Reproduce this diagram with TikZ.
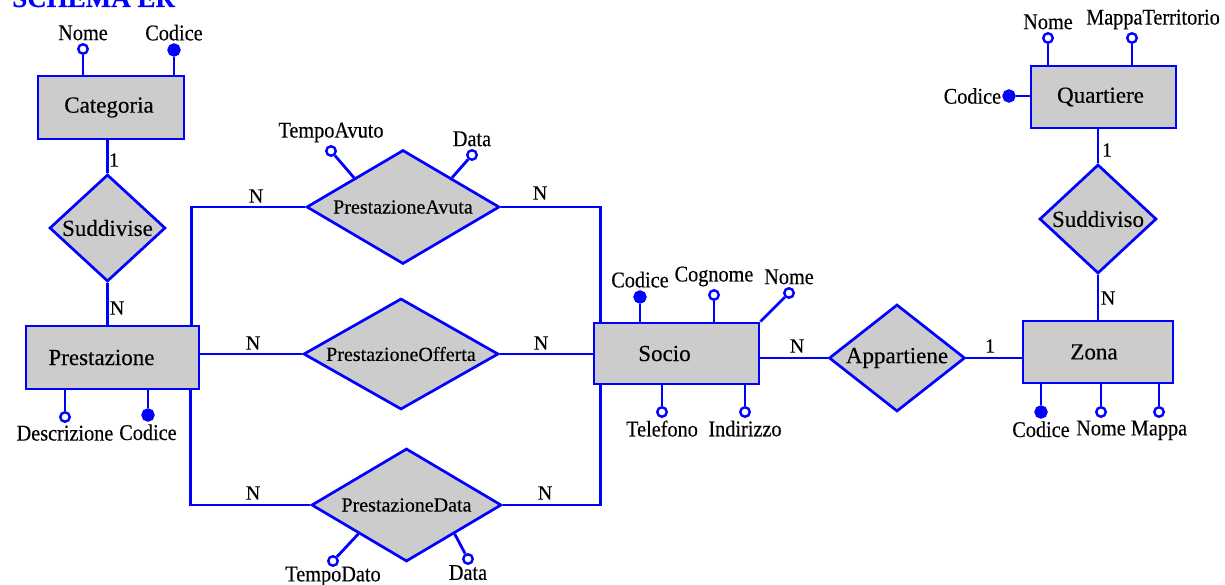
\documentclass[tikz,border=0pt]{standalone}
\usepackage{fontspec}
\setmainfont{Liberation Serif}[FakeBold=0.3]
\newfontfamily\lblfont{Liberation Serif}[FakeStretch=0.9,FakeBold=0.3]
\usepackage{tikz}
\usetikzlibrary{shapes.geometric}
\definecolor{erblue}{HTML}{0000FF}
\definecolor{ergray}{HTML}{CCCCCC}
\tikzset{
  link/.style={draw=erblue,line width=2.8pt},
  entity/.style={rectangle,draw=erblue,line width=2.9pt,fill=ergray,inner sep=0pt,
    font=\fontsize{23}{26}\selectfont},
  rel/.style={diamond,draw=erblue,line width=2.7pt,fill=ergray,inner sep=0pt,
    font=\fontsize{23}{26}\selectfont},
  relsmall/.style={rel,font=\fontsize{20}{24}\selectfont},
  attr/.style={circle,draw=erblue,fill=white,line width=2.4pt,inner sep=0pt,minimum size=9.5pt},
  keyattr/.style={attr,fill=erblue,minimum size=11pt},
  lbl/.style={inner sep=1pt,font=\lblfont\fontsize{22.5}{26}\selectfont},
  card/.style={inner sep=0pt,font=\fontsize{20}{24}\selectfont},
  title/.style={inner sep=0pt,text=erblue,font=\fontsize{27}{30}\selectfont\bfseries},
  every label/.style={lbl},
  label distance=1.5pt
}

\begin{document}
\begin{tikzpicture}[x=1pt,y=-1pt]
  \useasboundingbox (0,0) rectangle (1225,585);
  \node[title,anchor=base west] (title) at (12,7) {SCHEMA ER};

  % entita
  \node[entity,minimum width=146pt,minimum height=63pt] (cat) at (111,107.5) {Categoria\hspace*{4pt}};
  \node[entity,minimum width=173pt,minimum height=63pt] (prest) at (112.5,357.5) {Prestazione\hspace*{22pt}};
  \node[entity,minimum width=165pt,minimum height=61pt] (socio) at (676.5,353.5) {Socio\hspace*{24pt}};
  \node[entity,minimum width=150pt,minimum height=62pt] (zona) at (1098,352) {Zona\hspace*{8pt}};
  \node[entity,minimum width=145pt,minimum height=62pt] (quart) at (1103.5,97) {Quartiere\hspace*{6pt}};

  % relazioni
  \node[rel,shape aspect=1.08,minimum width=116pt,minimum height=107pt] (sudd) at (107.5,228) {Suddivise};
  \node[relsmall,shape aspect=1.68,minimum width=193pt,minimum height=114pt] (avuta) at (403,207) {PrestazioneAvuta};
  \node[relsmall,shape aspect=1.74,minimum width=195pt,minimum height=111pt] (offerta) at (401,354) {PrestazioneOfferta};
  \node[relsmall,shape aspect=1.66,minimum width=190pt,minimum height=113pt] (data) at (406.5,505) {PrestazioneData};
  \node[rel,shape aspect=1.26,minimum width=136pt,minimum height=107pt] (app) at (897,358) {Appartiene};
  \node[rel,shape aspect=1.07,minimum width=117pt,minimum height=109pt] (suddo) at (1098,219) {Suddiviso};

  % collegamenti
  \draw[link] (sudd.north |- cat.south) -- (sudd.north);
  \draw[link] (sudd.south) -- (sudd.south |- prest.north);
  \draw[link] ([xshift=-9pt]prest.north east) |- (avuta.west);
  \draw[link] (prest.east |- offerta.west) -- (offerta.west);
  \draw[link] ([xshift=-10pt]prest.south east) |- (data.west);
  \draw[link] (avuta.east) -| ([xshift=8pt]socio.north west);
  \draw[link] (offerta.east) -- (offerta.east -| socio.west);
  \draw[link] (data.east) -| ([xshift=8pt]socio.south west);
  \draw[link] (socio.east |- app.west) -- (app.west);
  \draw[link] (app.east) -- (app.east -| zona.west);
  \draw[link] (suddo.south) -- (suddo.south |- zona.north);
  \draw[link] (suddo.north |- quart.south) -- (suddo.north);

  % cardinalita
  \node[card] (c1) at (114,160) {1};
  \node[card] (c2) at (117,308) {N};
  \node[card] (c3) at (256,196) {N};
  \node[card] (c4) at (540,193) {N};
  \node[card] (c5) at (253,343) {N};
  \node[card] (c6) at (541,343) {N};
  \node[card] (c7) at (253,493) {N};
  \node[card] (c8) at (545,493) {N};
  \node[card] (c9) at (797,346) {N};
  \node[card] (c10) at (990,346) {1};
  \node[card] (c11) at (1107,150) {1};
  \node[card] (c12) at (1108,298) {N};

  % attributi
  \node[attr,label=above:Nome] (catnome) at (83,49) {};
  \node[keyattr,label=above:Codice] (catcod) at (174,50) {};
  \draw[link] (catnome) -- (catnome |- cat.north);
  \draw[link] (catcod) -- (catcod |- cat.north);

  \node[attr,label=below:Descrizione] (prdesc) at (65,417) {};
  \node[keyattr,label=below:Codice] (prcod) at (148,415) {};
  \draw[link] (prdesc) -- (prdesc |- prest.south);
  \draw[link] (prcod) -- (prcod |- prest.south);

  \node[attr,label=above:TempoAvuto] (avtempo) at (331,151) {};
  \node[attr,label=above:Data] (avdata) at (472,155) {};
  \draw[link] (avtempo) -- (avuta.north west);
  \draw[link] (avdata) -- (avuta.north east);

  \node[attr,label={[label distance=-1.5pt]below:TempoDato}] (dttempo) at (333,561) {};
  \node[attr,label={[label distance=-1pt]below:Data}] (dtdata) at (468,559) {};
  \draw[link] (dttempo) -- (data.south west);
  \draw[link] (dtdata) -- (data.south east);

  \node[keyattr,label=above:Codice] (socod) at (640,297) {};
  \node[attr,label=above:Cognome] (socogn) at (714,295) {};
  \node[attr,label=above:Nome] (sonome) at (789,293) {};
  \node[attr,label=below:Telefono] (sotel) at (662,412) {};
  \node[attr,label=below:Indirizzo] (soind) at (745,412) {};
  \draw[link] (socod) -- (socod |- socio.north);
  \draw[link] (socogn) -- (socogn |- socio.north);
  \draw[link] (sonome) -- (socio.north east);
  \draw[link] (sotel) -- (sotel |- socio.south);
  \draw[link] (soind) -- (soind |- socio.south);

  \node[keyattr,label=below:Codice] (zcod) at (1041,412) {};
  \node[attr,label=below:Nome] (znome) at (1101,412) {};
  \node[attr,label=below:Mappa] (zmappa) at (1159,412) {};
  \draw[link] (zcod) -- (zcod |- zona.south);
  \draw[link] (znome) -- (znome |- zona.south);
  \draw[link] (zmappa) -- (zmappa |- zona.south);

  \node[attr,label=above:Nome] (qnome) at (1048,38) {};
  \node[attr,label={[xshift=21pt]above:MappaTerritorio}] (qmappa) at (1132,38) {};
  \node[keyattr,label={[label distance=0pt]left:Codice}] (qcod) at (1009,96) {};
  \draw[link] (qnome) -- (qnome |- quart.north);
  \draw[link] (qmappa) -- (qmappa |- quart.north);
  \draw[link] (qcod) -- (qcod -| quart.west);
\end{tikzpicture}
\end{document}
